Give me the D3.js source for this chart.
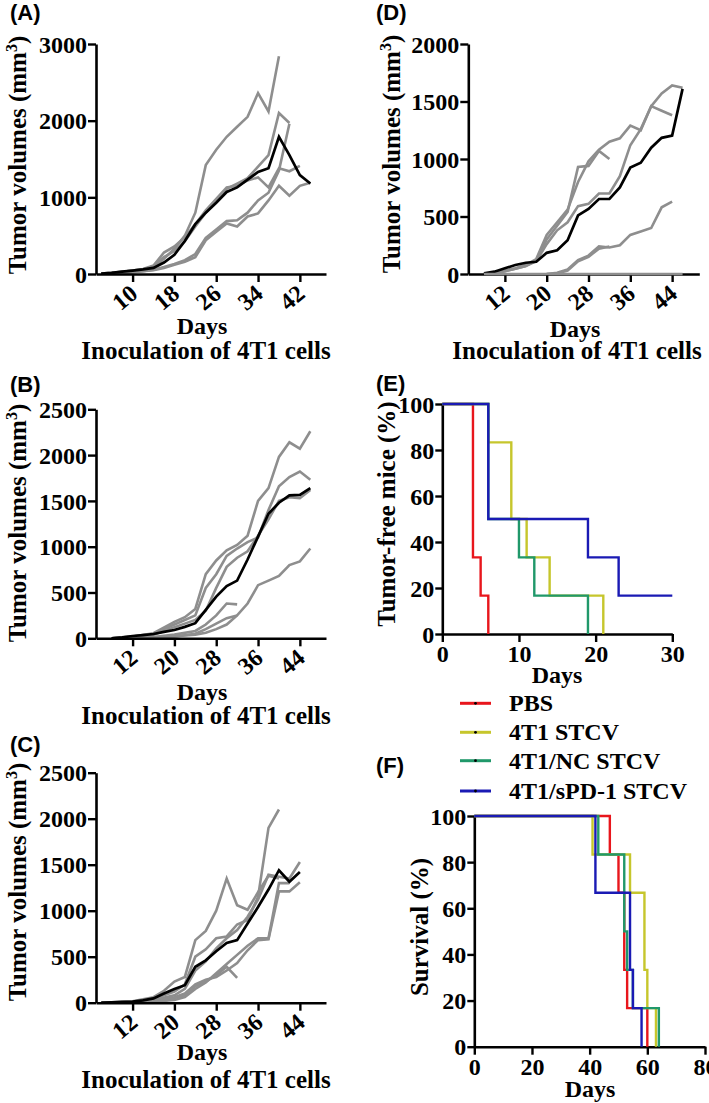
<!DOCTYPE html>
<html>
<head>
<meta charset="utf-8">
<script src="https://cdn.jsdelivr.net/npm/d3@7"></script>
<style>
  html, body { margin: 0; padding: 0; background: #fff; }
  svg { display: block; }
</style>
</head>
<body>
<svg id="chart" width="709" height="1103"></svg>
<script>
// ---- data: tumour growth curves, [day, volume mm3] ----
const meanA = [[4,5],[6,15],[8,30],[10,45],[12,60],[14,80],[16,150],[18,250],[20,430],[22,650],[24,800],[26,930],[28,1070],[30,1130],[32,1230],[34,1330],[36,1380],[38,1790],[40,1550],[42,1290],[44,1180]];
const miceA = [
  [[4,5],[6,12],[8,25],[10,40],[12,55],[14,90],[16,200],[18,330],[20,500],[22,800],[24,1420],[26,1620],[28,1790],[30,1920],[32,2050],[34,2360],[36,2120],[38,2840]],
  [[4,5],[6,15],[8,30],[10,45],[12,60],[14,100],[16,220],[18,300],[20,430],[22,620],[24,800],[26,950],[28,1110],[30,1180],[32,1250],[34,1400],[36,1550],[38,2100],[40,1970]],
  [[4,5],[6,15],[8,30],[10,45],[12,65],[14,110],[16,280],[18,360],[20,480],[22,650],[24,830],[26,980],[28,1130],[30,1150],[32,1220],[34,1260],[36,1130],[38,1380],[40,1340],[42,1410]],
  [[4,3],[6,8],[8,15],[10,25],[12,35],[14,50],[16,80],[18,120],[20,160],[22,220],[24,440],[26,550],[28,660],[30,620],[32,750],[34,790],[36,960],[38,1150],[40,1020],[42,1150],[44,1190]],
  [[4,3],[6,8],[8,15],[10,25],[12,35],[14,55],[16,90],[18,130],[20,180],[22,260],[24,470],[26,580],[28,690],[30,700],[32,800],[34,960],[36,1060],[38,1350],[40,1960]]
];
const meanB = [[8,0],[10,10],[12,25],[14,35],[16,47],[18,70],[20,91],[22,125],[24,165],[26,310],[28,455],[30,570],[32,630],[34,860],[36,1110],[38,1360],[40,1480],[42,1560],[44,1565],[46,1640]];
const miceB = [
  [[8,0],[12,20],[16,55],[20,180],[22,230],[24,320],[26,700],[28,850],[30,960],[32,1020],[34,1120],[36,1500],[38,1640],[40,1980],[42,2140],[44,2070],[46,2260]],
  [[8,0],[12,20],[16,50],[20,150],[22,200],[24,250],[26,550],[28,700],[30,900],[32,980],[34,1050],[36,1100],[38,1400],[40,1660],[42,1760],[44,1820],[46,1730]],
  [[8,0],[12,15],[16,40],[20,120],[22,160],[24,200],[26,300],[28,550],[30,780],[32,880],[34,950],[36,1120],[38,1300],[40,1500],[42,1540],[44,1530],[46,1620]],
  [[8,0],[16,10],[20,20],[22,30],[24,40],[26,60],[28,100],[30,150],[32,250],[34,380],[36,580],[38,630],[40,680],[42,800],[44,840],[46,980]],
  [[8,0],[16,15],[20,40],[24,80],[26,150],[28,250],[30,380],[32,370]],
  [[16,5],[20,20],[24,50],[26,100],[28,160],[30,220],[32,250]]
];
const meanC = [[6,0],[8,5],[10,8],[12,11],[14,25],[16,47],[18,100],[20,150],[22,190],[24,390],[26,460],[28,560],[30,650],[32,680],[34,860],[36,1040],[38,1230],[40,1440],[42,1315],[44,1420]];
const miceC = [
  [[6,0],[12,15],[16,60],[18,130],[20,230],[22,280],[24,680],[26,780],[28,1000],[30,1350],[32,1060],[34,1010],[36,1200],[38,1380],[40,1350]],
  [[8,0],[12,10],[16,40],[20,120],[22,200],[24,500],[26,580],[28,700],[30,720],[32,850],[34,900],[36,1150],[38,1900],[40,2100]],
  [[8,0],[12,10],[16,30],[20,80],[22,150],[24,350],[26,450],[28,590],[30,700],[32,790],[34,935],[36,1120],[38,1390],[40,1370],[42,1350],[44,1530]],
  [[10,0],[14,10],[18,40],[20,60],[22,100],[24,200],[26,250],[28,280],[30,350],[32,430],[34,570],[36,680],[38,690],[40,1210],[42,1210],[44,1310]],
  [[14,0],[18,20],[20,50],[22,80],[24,180],[26,230],[28,300],[30,390],[32,270]],
  [[12,0],[16,10],[20,30],[22,60],[24,150],[26,220],[28,320],[30,420],[32,520],[34,620],[36,700],[38,700],[40,1300],[42,1300]]
];
const meanD = [[8,5],[10,20],[12,50],[14,78],[16,98],[18,106],[20,184],[22,207],[24,293],[26,509],[28,566],[30,652],[32,652],[34,753],[36,925],[38,968],[40,1098],[42,1184],[44,1204],[46,1610]];
const miceD = [
  [[8,0],[10,10],[12,25],[14,45],[16,70],[18,120],[20,300],[22,420],[24,540],[26,930],[28,940],[30,1070],[32,1000]],
  [[8,0],[10,12],[12,30],[14,50],[16,80],[18,130],[20,340],[22,450],[24,560],[26,800],[28,980],[30,1080],[32,1150],[34,1180],[36,1290],[38,1250],[40,1460],[42,1570],[44,1640],[46,1620]],
  [[8,0],[10,10],[12,25],[14,45],[16,70],[18,110],[20,260],[22,380],[24,450],[26,590],[28,610],[30,700],[32,700],[34,850],[36,1120],[38,1260],[40,1460],[42,1420],[44,1380]],
  [[20,0],[22,10],[24,40],[26,120],[28,160],[30,240],[32,230],[34,250],[36,340],[38,370],[40,400],[42,580],[44,630]],
  [[20,0],[22,5],[24,30],[26,110],[28,150],[30,220],[32,240]],
  [[8,0],[46,0]]
];
const ticksA = [10,18,26,34,42];
const ticksBCD = [12,20,28,36,44];

// ---- data: Kaplan-Meier, [day, percent] ----
const groups = ["PBS", "4T1 STCV", "4T1/NC STCV", "4T1/sPD-1 STCV"];
const groupColors = ["#e8161c", "#c6c62c", "#20986a", "#1a1ab4"];
const tumorFree = [
  [[0,100],[4,33.3],[5,16.7],[6,0]],
  [[0,100],[6,83.3],[9,50],[11,33.3],[14,16.7],[21,0]],
  [[0,100],[6,50],[10,33.3],[12,16.7],[19,0]],
  [[0,100],[6,50],[19,33.3],[23,16.7],[30,16.7]]
];
const survival = [
  [[0,100],[47,83.3],[50,66.7],[52,33.3],[53,16.7],[60,0]],
  [[0,100],[41,83.3],[54,66.7],[59,33.3],[60,16.7],[63,0]],
  [[0,100],[43,83.3],[52,50],[53,33.3],[55,16.7],[64,0]],
  [[0,100],[42,66.7],[54,33.3],[55,16.7],[58,0]]
];

const SERIF = "'Liberation Serif','Times New Roman',serif";
const SANS = "'Liberation Sans',Arial,sans-serif";
const svg = d3.select("#chart");

function styleAxis(g) {
  g.attr("font-family", SERIF);
  g.selectAll(".domain").attr("stroke", "#000").attr("stroke-width", 2.6);
  g.selectAll(".tick line").attr("stroke", "#000").attr("stroke-width", 2.4);
  g.selectAll(".tick text").attr("font-family", SERIF).attr("font-weight", "bold")
    .attr("font-size", 24).attr("fill", "#000");
}

function panelLetter(txt, x, y) {
  svg.append("text").attr("x", x).attr("y", y).attr("font-family", SANS)
    .attr("font-weight", "bold").attr("font-size", 22).text(txt);
}

function ylabel(x, y, parts) {
  const t = svg.append("text").attr("transform", `translate(${x},${y}) rotate(-90)`)
    .attr("text-anchor", "middle").attr("font-family", SERIF).attr("font-weight", "bold")
    .attr("font-size", 25);
  t.append("tspan").text(parts[0]);
  if (parts.length > 1) {
    t.append("tspan").attr("dy", -9).attr("font-size", 16).text(parts[1]);
    t.append("tspan").attr("dy", 9).text(parts[2]);
  }
}

function centerText(txt, x, y, size) {
  svg.append("text").attr("x", x).attr("y", y).attr("text-anchor", "middle")
    .attr("font-family", SERIF).attr("font-weight", "bold").attr("font-size", size || 24).text(txt);
}

function tumorPanel(p) {
  const x = d3.scaleLinear().domain(p.xdom).range([p.x0, p.x1]);
  const y = d3.scaleLinear().domain(p.ydom).range([p.y0, p.y1]);
  const line = d3.line().x(d => x(d[0])).y(d => y(d[1]));

  svg.append("g").selectAll("path").data(p.mice).join("path")
    .attr("d", line).attr("fill", "none").attr("stroke", "#8e8e8e").attr("stroke-width", 2.6);
  svg.append("path").datum(p.mean).attr("d", line).attr("fill", "none")
    .attr("stroke", "#000").attr("stroke-width", 2.7);

  const gx = svg.append("g").attr("transform", `translate(0,${p.y0})`)
    .call(d3.axisBottom(x).tickValues(p.xticks).tickSize(8).tickSizeOuter(0));
  styleAxis(gx);
  gx.selectAll(".tick text").attr("y", 0).attr("dy", 0).attr("text-anchor", "end")
    .attr("transform", "translate(6,22) rotate(-40)");

  const gy = svg.append("g").attr("transform", `translate(${p.x0},0)`)
    .call(d3.axisLeft(y).tickValues(p.yticks).tickFormat(d3.format("d"))
      .tickSize(8).tickPadding(1).tickSizeOuter(0));
  styleAxis(gy);
  gy.selectAll(".tick text").attr("dy", "0.34em");

  // the grey trace of a tumour-free mouse lies on the axis
  if (p.zeroMouse) {
    svg.append("path").datum(p.zeroMouse).attr("d", line).attr("fill", "none")
      .attr("stroke", "#8e8e8e").attr("stroke-width", 2.6);
  }

  ylabel(p.ylx, p.yly, ["Tumor volumes (mm", "3", ")"]);
  centerText("Days", p.daysX, p.daysY);
  centerText("Inoculation of 4T1 cells", p.inocX, p.inocY, 25);
  panelLetter(p.letter, p.lx, p.ly);
}

tumorPanel({ letter: "(A)", lx: 10, ly: 20, mean: meanA, mice: miceA,
  xdom: [3, 47], x0: 96, x1: 326, ydom: [0, 3000], y0: 274, y1: 44,
  xticks: ticksA, yticks: [0, 1000, 2000, 3000],
  ylx: 26, yly: 155, daysX: 202, daysY: 334, inocX: 206, inocY: 359 });
tumorPanel({ letter: "(B)", lx: 10, ly: 392, mean: meanB, mice: miceB,
  xdom: [5, 49], x0: 96, x1: 326, ydom: [0, 2500], y0: 638.3, y1: 409.3,
  xticks: ticksBCD, yticks: [0, 500, 1000, 1500, 2000, 2500],
  ylx: 26, yly: 523, daysX: 202, daysY: 700, inocX: 206, inocY: 724 });
tumorPanel({ letter: "(C)", lx: 10, ly: 752, mean: meanC, mice: miceC,
  xdom: [5, 49], x0: 96, x1: 326, ydom: [0, 2500], y0: 1002.7, y1: 772.7,
  xticks: ticksBCD, yticks: [0, 500, 1000, 1500, 2000, 2500],
  ylx: 26, yly: 882, daysX: 202, daysY: 1060, inocX: 206, inocY: 1088 });
tumorPanel({ letter: "(D)", lx: 376, ly: 20, mean: meanD, mice: miceD.slice(0, 5), zeroMouse: miceD[5],
  xdom: [5, 49.2], x0: 468.3, x1: 699.3, ydom: [0, 2000], y0: 274, y1: 44,
  xticks: ticksBCD, yticks: [0, 500, 1000, 1500, 2000],
  ylx: 400, yly: 154, daysX: 575, daysY: 337, inocX: 577, inocY: 359 });

function kmPanel(p) {
  const x = d3.scaleLinear().domain(p.xdom).range([p.x0, p.x1]);
  const y = d3.scaleLinear().domain([0, 100]).range([p.y0, p.y1]);
  const line = d3.line().x(d => x(d[0])).y(d => y(d[1])).curve(d3.curveStepAfter);

  const gx = svg.append("g").attr("transform", `translate(0,${p.y0})`)
    .call(d3.axisBottom(x).tickValues(p.xticks).tickSize(8).tickPadding(3).tickSizeOuter(0));
  styleAxis(gx);
  const gy = svg.append("g").attr("transform", `translate(${p.x0},0)`)
    .call(d3.axisLeft(y).tickValues([0, 20, 40, 60, 80, 100]).tickSize(7).tickPadding(1).tickSizeOuter(0));
  styleAxis(gy);
  gy.selectAll(".tick text").attr("dy", "0.34em");

  svg.append("g").selectAll("path").data(p.series).join("path")
    .attr("d", line).attr("fill", "none")
    .attr("stroke", (d, i) => groupColors[i]).attr("stroke-width", 2.4);

  ylabel(p.ylx, p.yly, [p.ytitle]);
  centerText("Days", p.daysX, p.daysY);
  panelLetter(p.letter, p.lx, p.ly);
}

kmPanel({ letter: "(E)", lx: 376, ly: 391, series: tumorFree,
  xdom: [0, 30], x0: 442.3, x1: 672.3, y0: 634, y1: 404, xticks: [0, 10, 20, 30],
  ytitle: "Tumor-free mice (%)", ylx: 395, yly: 514, daysX: 557, daysY: 683 });
kmPanel({ letter: "(F)", lx: 376, ly: 773, series: survival,
  xdom: [0, 80], x0: 474.3, x1: 705, y0: 1046.7, y1: 816, xticks: [0, 20, 40, 60, 80],
  ytitle: "Survival (%)", ylx: 428, yly: 927, daysX: 590, daysY: 1097 });

// legend
const legendRows = [703.3, 732.3, 760.7, 791];
const lg = svg.append("g").selectAll("g").data(groups).join("g")
  .attr("transform", (d, i) => `translate(460,${legendRows[i]})`);
lg.append("line").attr("x1", 0).attr("x2", 31).attr("stroke", (d, i) => groupColors[i]).attr("stroke-width", 3);
lg.append("circle").attr("cx", 15.5).attr("r", 1.4).attr("fill", "#000");
lg.append("text").attr("x", 49).attr("dy", "0.34em").attr("font-family", SERIF)
  .attr("font-weight", "bold").attr("font-size", 24).text(d => d);
</script>
</body>
</html>
